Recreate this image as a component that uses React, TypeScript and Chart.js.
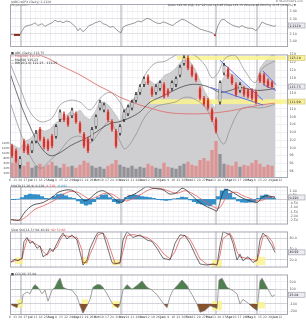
import React, { useEffect, useRef } from "react";
import { Chart, registerables } from "chart.js";

Chart.register(...registerables);

const FONT = "DejaVu Sans";
const X_MAX = 278;
const WEEK = 5.1;

// ---------- axis labels ----------
const WEEK_LABELS = ["6","13","20","27","Jul","11","18","25","Aug","8","15","22","29","Sep","12","19","26","Oct","10","17","24","31","Nov","14","21","28","Dec","12","19","26","Jan","9","16","23","30","Feb","13","20","27","Mar","13","20","27","Apr","10","17","24","May","8","15","22","29","Jun","12"];
const MONTHS = ["Jul","Aug","Sep","Oct","Nov","Dec","Jan","Feb","Mar","Apr","May","Jun"];
const MARKER_T = [11, 111, 206, 247];

const RS_TICKS = [2.0, 2.1, 2.2, 2.3, 2.4];
const PRICE_TICKS = [94,96,98,100,102,104,106,108,110,112,114,116,118,120,122,124];
const VOL_TICKS = [20,40,60,80,100,120,140];
const MACD_TICKS = [1,0.5,0,-0.5,-1,-1.5,-2,-2.5];
const STO_TICKS = [20,50,80];
const CCI_TICKS = [-200,-100,0,100,200];

// ---------- relative strength panel ----------
const RS_T = [0,5,10,12,15,18,22,25,28,32,35,38,42,45,48,50,53,56,60,63,66,68,70,73,76,79,82,85,88,90,93,96,100,103,106,109,111,113,116,119,122,125,128,131,134,137,140,143,146,150,153,156,160,163,166,169,172,175,178,181,184,187,190,193,196,199,202,205,208,211,214,217,220,223,226,229,232,235,238,241,244,246,249,252,255,258,261,264,266];
const RS_V = [2.092,2.086,2.086,2.14,2.2,2.212,2.224,2.248,2.212,2.236,2.2,2.224,2.248,2.284,2.26,2.272,2.248,2.272,2.26,2.224,2.188,2.14,2.176,2.128,2.164,2.212,2.224,2.248,2.26,2.272,2.236,2.224,2.188,2.2,2.164,2.128,2.116,2.188,2.212,2.224,2.236,2.248,2.272,2.26,2.284,2.308,2.296,2.272,2.248,2.236,2.26,2.248,2.224,2.212,2.248,2.272,2.296,2.284,2.26,2.236,2.212,2.188,2.164,2.152,2.14,2.128,2.116,2.08,2.212,2.284,2.296,2.26,2.236,2.212,2.2,2.188,2.212,2.188,2.176,2.176,2.164,2.14,2.188,2.26,2.236,2.224,2.212,2.2,2.212];
const RS_MARK_T = [4, 10];
const RS_MARK_V = [2.086, 2.086];
const RS_DOT_T = [205];
const RS_DOT_V = [2.08];

// ---------- price panel ----------
const CANDLE_T = [2,6,10,14,18,22,26,30,34,38,42,46,50,54,58,62,66,70,74,78,82,86,90,94,98,102,106,110,114,118,122,126,130,134,138,142,146,150,154,158,162,166,170,174,178,182,186,190,194,198,202,206,210,214,218,222,226,230,234,238,242,246,250,254,258,262];
const OPEN = [100.5,99.25,95.5,101.75,100.5,99.25,101.75,104.75,102.25,101.75,103,103,107.25,108.75,107.75,108.25,108.75,106.25,103.5,102.25,102.25,105.5,110.25,109.75,109.25,106.75,104.25,103.75,107.25,108.75,110.25,112.25,114.25,116.25,118.25,115.25,114.25,115.25,116.25,114.75,115.25,116.25,118.75,121.75,123,120.75,118.75,115.25,112.75,112.25,109.75,107.25,111.75,119.25,120.25,118.25,116.25,114.75,115.25,114.75,114.75,114.25,118.75,118.75,117.25,116.75];
const CLOSE = [98,96.75,97.25,99.25,98.75,101.25,103.75,102.25,100.25,99.75,100.5,105.5,109.25,107.25,106,109.75,106.75,104.25,100.5,99.25,104.75,108,111.75,111,107.25,104.75,100.5,105.5,109.25,110.5,111.75,113.75,115.75,117.75,116.75,113.75,115.75,116.75,113.25,113.75,116.75,117.75,120.75,123.25,120.5,118.75,117.5,112.75,111.25,110.25,107.25,104.25,116.75,121.25,118.25,116.75,113.75,116.25,113.75,113.25,112.75,111.75,117.25,116.75,116,115.75];
const HIGH = [101,99.75,97.75,102.25,101,101.75,104.5,105.25,102.75,102.25,103.5,106,109.75,109.25,108.25,110.25,109.25,106.75,104,102.75,105.25,108.5,112.25,111.5,109.75,107.25,104.75,106,109.75,111,112.25,114.25,116.25,118.25,118.75,115.75,116.25,117.25,116.75,115.25,117.25,118.25,121.25,123.75,123.75,121.25,119.25,115.75,113.25,112.75,110.25,107.75,117.25,121.75,120.75,118.75,116.75,116.75,115.75,115.25,115.25,114.75,119.25,119.25,117.75,117.25];
const LOW = [97.5,96.25,94.75,98.75,98.25,98.75,101.25,101.75,99.75,99.25,100,102.5,106.75,106.75,105.5,107.75,106.25,103.75,100,98.75,101.75,105,109.75,109.25,106.75,104.25,100,103.25,106.75,108.25,109.75,111.75,113.75,115.75,116.25,113.25,113.75,114.75,112.75,113.25,114.75,115.75,118.25,121.25,120,118.25,117,112.25,110.75,109.75,106.75,103.75,111.25,118.75,117.75,116.25,113.25,114.25,113.25,112.75,112.25,111.25,116.75,116.25,115.5,115.25];
const VOLUME = [60,72,56,48,64,40,48,56,44,52,64,48,40,56,44,48,40,52,68,60,48,40,44,36,48,56,72,52,44,40,48,36,44,40,56,48,40,36,60,44,40,36,48,56,64,52,48,72,80,68,112,148,96,56,52,48,64,44,52,48,60,72,56,44,52,48];

const AREA_T = [0,5,10,15,20,25,30,35,40,45,50,55,60,65,70,75,80,85,90,95,100,105,110,115,120,125,130,135,140,145,150,155,160,165,170,175,180,185,190,195,200,205,210,215,220,225,230,235,240,245,250,255,260,265];
const AREA_V = [101,100.5,99.75,101.75,102.25,103.75,104.75,104.25,104.75,106.25,107.25,108,109.25,108.75,109.75,108,107.25,109.25,111.75,111.75,110.5,108.75,106.75,109.75,111.75,113,114.25,116.75,117.25,116.25,117.25,118.75,119.25,120.25,121.75,123.5,122.25,120.25,117.25,114.25,112.25,110,116.25,118.75,119.25,118.5,117.25,116,114.75,114.25,120.5,122.25,123.5,124.25];

const BB_UP_T = [0,10,20,30,40,45,50,60,70,80,90,100,110,115,125,135,145,155,165,175,185,195,202,208,215,225,235,245,252,260,265];
const BB_UP = [121.75,115.5,109.25,106.75,107.25,108.75,111,112.25,111.75,109.75,112.75,114.25,111.75,109.75,112.75,118.75,121.75,122.25,123.75,124.75,123.75,121.25,118,119.25,123,123.75,119.75,116.75,120.25,121.75,122.25];
const BB_LO_T = [0,10,20,30,40,50,60,70,80,90,100,110,115,125,135,145,155,165,175,185,195,202,208,214,220,230,240,250,260,265];
const BB_LO = [111.75,104.25,98,94.75,96.75,99.25,102.25,103,101.25,104.25,106.75,101.75,99.75,103,108,110.5,111.25,111.75,113,112.5,110.5,107.25,103,101,104.75,109.75,110.5,110.25,110.75,111.25];
const MA50_T = [0,10,20,30,40,50,60,70,80,90,100,110,120,130,140,150,160,170,180,190,200,210,220,230,240,250,265];
const MA50_V = [119.25,111.75,105.5,100.5,98,98.75,100.5,101.75,103,104.75,106.25,106.75,107.75,109.25,111.75,113,114.25,115.5,116.25,116.25,115.5,114.25,114.75,115.5,115,114.75,115.25];
const MA200_T = [20,27,40,50,60,70,80,90,100,110,120,130,140,150,160,175,190,205,220,235,250,265];
const MA200_V = [126,124.25,122.75,121.25,120,118.75,117.25,115.75,114.5,113,112,111,110.25,109.5,109,108.75,108.75,109,109.5,110.25,111,111.5];

const TREND_T = [[210,253],[201,253],[253,266],[253,266]];
const TREND_V = [[122.5,112.25],[115.5,111],[119.75,116.25],[116.25,114.75]];
const ZONE_T = [[167,276],[140,287]];
const ZONE_V = [[122.6,123.6],[111.25,112.5]];

// ---------- MACD ----------
const MACD_T = [0,8,10,15,23,33,43,48,57,63,70,75,80,87,93,100,107,112,117,123,130,137,143,153,160,167,172,177,183,190,197,203,207,212,215,220,227,233,240,247,253,258,265];
const MACD_V = [-2.4,-2.5,-2.4,-1.5,-0.7,-0.4,0.3,0.8,1.1,1.0,0.3,-0.2,0.1,0.8,1.0,0.5,-0.2,-0.4,0.3,0.5,1.0,1.5,1.3,1.1,0.6,0.8,1.3,1.0,0.3,-0.4,-0.9,-1.2,-1.4,0.5,1.1,1.0,0.5,0.1,-0.2,-0.4,0.3,0.4,0.2];
const SIGNAL_T = [0,10,17,25,35,45,52,60,68,75,80,87,95,102,110,117,123,130,137,145,153,160,167,175,182,190,197,205,210,215,220,227,233,240,247,253,258,265];
const SIGNAL_V = [-2.4,-2.5,-2.0,-1.2,-0.7,-0.1,0.5,0.9,0.8,0.3,0.0,0.3,0.7,0.6,0.0,-0.2,0.1,0.5,1.0,1.3,1.2,0.9,0.7,1.0,0.7,0.1,-0.4,-1.0,-1.0,0.0,0.7,0.8,0.4,0.1,-0.2,-0.1,0.2,0.3];
const HIST_T = [0,4,8,12,16,20,24,28,32,36,40,44,48,52,56,60,64,68,72,76,80,84,88,92,96,100,104,108,112,116,120,124,128,132,136,140,144,148,152,156,160,164,168,172,176,180,184,188,192,196,200,204,208,212,216,220,224,228,232,236,240,244,248,252,256,260,264];
const HIST_V = [-0.05,-0.05,0,0.2,0.45,0.6,0.55,0.5,0.3,0.1,0.05,0.3,0.55,0.6,0.4,0.2,0.1,-0.2,-0.5,-0.7,-0.6,-0.3,0.2,0.45,0.5,0.2,-0.3,-0.5,-0.3,0.2,0.4,0.5,0.45,0.3,0.25,0.2,0.1,-0.05,-0.1,-0.15,-0.1,0.05,0.1,0.25,0.2,-0.1,-0.3,-0.5,-0.6,-0.7,-0.8,-0.6,0.3,1.0,1.2,0.7,0.2,-0.2,-0.35,-0.4,-0.35,-0.3,0.1,0.4,0.5,0.3,0.1];

// ---------- stochastic ----------
const STO_T = [0,5,8,12,14,17,20,23,27,30,33,37,40,43,47,50,53,57,62,67,72,73,77,80,85,88,93,97,102,105,110,113,117,123,130,137,142,147,153,160,165,170,175,180,185,190,197,203,207,210,213,220,223,227,230,233,238,243,247,250,253,257,262,265];
const STO_K = [13,22,18,25,71,82,66,71,52,59,29,36,52,43,66,82,94,78,89,75,20,6,20,52,82,96,94,59,13,9,13,75,98,82,89,75,71,52,25,20,66,89,87,66,36,9,6,9,6,59,98,89,66,20,36,18,29,13,20,75,94,82,59,41];
const STO_D = [13,18,20,22,48,76,74,68,62,56,44,33,44,48,55,74,88,86,84,82,48,13,13,36,67,89,95,77,36,11,11,44,87,90,86,82,73,62,39,23,43,78,88,77,51,23,8,8,8,33,79,94,78,43,28,27,24,21,17,48,85,88,71,50];
const STO_ZONE_T = [[5,13],[72,78],[102,110],[202,212],[245,255]];
const STO_ZONE_V = [[8.5,27],[8.5,27],[6,20],[-0.7,20],[6,29]];

// ---------- CCI ----------
const CCI_T = [0,3,7,8,12,13,17,20,23,25,28,32,35,38,42,45,48,50,53,57,62,67,70,73,77,80,83,87,90,93,97,102,105,108,110,113,117,122,127,132,137,142,147,153,157,160,163,168,172,177,182,187,190,195,200,205,207,209,212,217,222,227,230,233,238,243,247,250,252,257,262,265];
const CCI_V = [-100,-125,-150,-100,-88,25,62,38,125,162,125,38,88,-62,88,125,212,250,125,100,88,0,-125,-225,-125,-38,125,162,162,125,38,-88,-125,-150,-100,88,162,100,150,212,125,88,25,-88,-150,0,88,162,225,150,25,-100,-212,-188,-125,-150,-162,225,250,125,88,38,-100,-38,-88,-150,-188,212,250,125,0,25];
const CCI_ZONE_T = [[7,13],[72,78],[102,110],[202,212],[245,255]];
const CCI_ZONE_V = [[-150,-37],[-125,-37],[-150,-62],[-187,-62],[-162,-75]];

// ---------- helpers ----------
const pts = (ts: number[], vs: number[]) => ts.map((t, i) => ({ x: t, y: vs[i] }));
const zones = (ts: number[][], vs: number[][]) => ts.map((t, i) => ({ x0: t[0], x1: t[1], y0: vs[i][0], y1: vs[i][1] }));

function line(ts: number[], vs: number[], color: string, width: number, order: number, extra: any = {}) {
  return { type: "line", data: pts(ts, vs), borderColor: color, borderWidth: width, pointRadius: 0, fill: false, tension: 0, order, ...extra };
}

function xScale(labels: boolean) {
  return {
    type: "linear", min: 0, max: X_MAX, offset: false,
    afterBuildTicks: (s: any) => { s.ticks = WEEK_LABELS.map((_, i) => ({ value: i * WEEK })); },
    afterFit: (s: any) => { s.height = labels ? 5 : 0; },
    ticks: {
      display: labels, autoSkip: false, maxRotation: 0, minRotation: 0, padding: 0.5, color: "#555",
      font: (c: any) => ({ family: FONT, size: 3, weight: MONTHS.includes(WEEK_LABELS[c.index]) ? "bold" : "normal" }),
      callback: (_v: any, i: number) => WEEK_LABELS[i] ?? "",
    },
    grid: { drawTicks: false, offset: false, lineWidth: 0.5, color: (c: any) => (MONTHS.includes(WEEK_LABELS[c.index]) ? "#d9d9e2" : "#ededf3") },
    border: { display: false },
  };
}

function yScale(o: { min: number; max: number; ticks: number[]; fmt: (v: number) => string; grid?: (v: number) => string }) {
  return {
    position: "right", min: o.min, max: o.max,
    afterBuildTicks: (s: any) => { s.ticks = o.ticks.map((v) => ({ value: v })); },
    afterFit: (s: any) => { s.width = 18; },
    ticks: { autoSkip: false, padding: 1.5, color: "#555", font: { family: FONT, size: 3.3 }, callback: (v: any) => o.fmt(Number(v)) },
    grid: { drawTicks: false, lineWidth: 0.5, color: (c: any) => (o.grid ? o.grid(c.tick?.value) : "#e2e2ea") },
    border: { display: false },
  };
}

function drawZones(chart: any, o: any) {
  const { ctx } = chart;
  const xs = chart.scales.x;
  const ys = chart.scales[o.yId || "y"];
  ctx.save();
  ctx.fillStyle = "rgba(250,244,140,0.85)";
  o.zones.forEach((b: any) => {
    const x0 = xs.getPixelForValue(b.x0), x1 = xs.getPixelForValue(b.x1);
    const y0 = ys.getPixelForValue(b.y1), y1 = ys.getPixelForValue(b.y0);
    ctx.fillRect(x0, y0, x1 - x0, y1 - y0);
  });
  ctx.restore();
}

function overlay(o: any) {
  return {
    id: "overlay",
    beforeDatasetsDraw(chart: any) {
      const { ctx, chartArea: a } = chart;
      const xs = chart.scales.x;
      ctx.save();
      ctx.strokeStyle = "#a4a4ac";
      ctx.lineWidth = 0.9;
      MARKER_T.forEach((t) => {
        const px = xs.getPixelForValue(t);
        ctx.beginPath(); ctx.moveTo(px, a.top); ctx.lineTo(px, a.bottom); ctx.stroke();
      });
      ctx.restore();
      if (o.zones && o.zoneAfter === undefined) drawZones(chart, o);
    },
    afterDatasetDraw(chart: any, args: any) {
      if (o.zones && o.zoneAfter === args.index) drawZones(chart, o);
    },
    afterDraw(chart: any) {
      const { ctx, chartArea: a } = chart;
      ctx.save();
      ctx.strokeStyle = "#a8a8b2";
      ctx.lineWidth = 1;
      ctx.strokeRect(a.left + 0.5, a.top + 0.5, a.width - 1, a.height - 1);
      const ys = chart.scales[o.yId || "y"];
      (o.boxes || []).forEach((b: any) => {
        const py = ys.getPixelForValue(b.value);
        ctx.fillStyle = b.fill;
        ctx.fillRect(a.right + 0.5, py - 2.5, 16.5, 5);
        ctx.strokeStyle = b.stroke;
        ctx.lineWidth = 0.6;
        ctx.strokeRect(a.right + 0.5, py - 2.5, 16.5, 5);
        ctx.fillStyle = "#222";
        ctx.font = `3.2px ${FONT}`;
        ctx.textAlign = "left";
        ctx.textBaseline = "middle";
        ctx.fillText(b.label, a.right + 1.5, py + 0.2);
      });
      let cx = 0;
      (o.texts || []).forEach((t: any) => {
        ctx.font = `${t.bold ? "bold " : ""}${t.size || 3.2}px ${FONT}`;
        ctx.fillStyle = t.color || "#444";
        ctx.textAlign = t.align || "left";
        ctx.textBaseline = "top";
        const x = t.x === undefined ? cx + 1 : t.x;
        ctx.fillText(t.text, x, t.y);
        cx = x + ctx.measureText(t.text).width;
      });
      ctx.restore();
    },
  };
}

const base = (padding: any) => ({
  responsive: false, animation: false, events: [],
  layout: { padding },
  plugins: { legend: { display: false }, tooltip: { enabled: false } },
});

// ---------- panel builders ----------
function buildRS() {
  return {
    type: "line",
    data: {
      datasets: [
        line(RS_T, RS_V, "#707070", 0.7, 2),
        line(RS_MARK_T, RS_MARK_V, "#8c2a14", 2, 1),
        { type: "line", data: pts(RS_DOT_T, RS_DOT_V), showLine: false, pointRadius: 1, pointBackgroundColor: "#d02020", pointBorderWidth: 0, order: 0 },
      ],
    },
    options: {
      ...base({ left: 10, top: 3, right: 0, bottom: 0 }),
      scales: {
        x: xScale(false),
        y: yScale({ min: 1.924, max: 2.5, ticks: RS_TICKS, fmt: (v) => v.toFixed(2), grid: (v) => (v === 2.1 || v === 2.3 ? "#c8c8d2" : "#e2e2ea") }),
      },
    },
    plugins: [overlay({
      boxes: [{ value: 2.212, label: "2.2120", fill: "#ececf2", stroke: "#9a9aa4" }],
      texts: [
        { x: 11, y: 0.4, text: "$ABC:$SPX (Daily) 2.2120", color: "#555", size: 3.1 },
        { x: 11, y: 4.2, text: "20-Jun-2017", color: "#777", size: 2.9 },
        { x: 303, y: 0, text: "© StockCharts.com", color: "#666", size: 2.8, align: "right" },
        { x: 296, y: 3.6, text: "Open 116.50 High 117.02 Low 115.48 Close 115.75 Volume 48.2M Chg -0.72 (-0.62%) ▼", color: "#444", size: 2.9, align: "right" },
      ],
    })],
  };
}

function buildMain() {
  const down = CANDLE_T.map((_, i) => CLOSE[i] < OPEN[i]);
  const wickColors = down.map((d) => (d ? "#e0302a" : "#1e1e1e"));
  const bodyFill = down.map((d) => (d ? "#e0302a" : "rgba(255,255,255,0.9)"));
  const bodyBorder = down.map((d) => (d ? "#e0302a" : "#1e1e1e"));
  const volColors = down.map((d) => (d ? "rgba(226,128,128,0.75)" : "rgba(120,120,126,0.7)"));
  const trend = TREND_T.map((ts, i) => line(ts, TREND_V[i], "#5a6fe6", 1, 4));
  return {
    type: "bar",
    data: {
      datasets: [
        { type: "line", data: pts(AREA_T, AREA_V), fill: "start", backgroundColor: "#cfcfd2", borderColor: "#b4b4b8", borderWidth: 0.6, pointRadius: 0, tension: 0, order: 10, yAxisID: "y" },
        { type: "bar", data: pts(CANDLE_T, VOLUME), backgroundColor: volColors, barThickness: 2.6, grouped: false, yAxisID: "vol", order: 9 },
        line(BB_UP_T, BB_UP, "#8c8c8c", 0.7, 6, { tension: 0.35 }),
        line(BB_LO_T, BB_LO, "#8c8c8c", 0.7, 6, { tension: 0.35 }),
        line(MA50_T, MA50_V, "#3a3a3a", 0.7, 5, { tension: 0.35 }),
        line(MA200_T, MA200_V, "#e07272", 0.9, 5, { tension: 0.35 }),
        ...trend,
        { type: "bar", data: CANDLE_T.map((t, i) => ({ x: t, y: [LOW[i], HIGH[i]] })), backgroundColor: wickColors, barThickness: 0.7, grouped: false, order: 2 },
        { type: "bar", data: CANDLE_T.map((t, i) => ({ x: t, y: [OPEN[i], CLOSE[i]] })), backgroundColor: bodyFill, borderColor: bodyBorder, borderWidth: 0.6, borderSkipped: false, barThickness: 2.2, grouped: false, order: 1 },
      ],
    },
    options: {
      ...base({ left: 0, top: 0, right: 0, bottom: 0 }),
      scales: {
        x: xScale(true),
        y: yScale({ min: 92.25, max: 124, ticks: PRICE_TICKS, fmt: (v) => v.toFixed(0) }),
        vol: {
          position: "left", min: 0, max: 500,
          afterBuildTicks: (s: any) => { s.ticks = VOL_TICKS.map((v) => ({ value: v })); },
          afterFit: (s: any) => { s.width = 10; },
          ticks: { autoSkip: false, padding: 0.5, color: "#555", font: { family: FONT, size: 2.8 }, callback: (v: any) => `${v}M` },
          grid: { display: false, drawTicks: false },
          border: { display: false },
        },
      },
    },
    plugins: [overlay({
      zones: zones(ZONE_T, ZONE_V), zoneAfter: 0,
      boxes: [
        { value: 123.1, label: "123.10", fill: "#f8f09a", stroke: "#c8c070" },
        { value: 115.75, label: "115.75", fill: "#ececf2", stroke: "#9a9aa4" },
        { value: 111.9, label: "111.90", fill: "#f8f09a", stroke: "#c8c070" },
      ],
      texts: [
        { x: 11, y: 0.8, text: "■ ABC (Daily) 115.75", color: "#444", size: 3.1 },
        { x: 11, y: 4.0, text: "— MA(200) 111.52", color: "#d85050", size: 3.1 },
        { x: 11, y: 7.2, text: "— MA(50) 115.23", color: "#222", size: 3.1 },
        { x: 11, y: 10.4, text: "— BB(20,2.0) 122.25 - 111.25", color: "#222", size: 3.1 },
      ],
    })],
  };
}

function buildMACD() {
  return {
    type: "bar",
    data: {
      datasets: [
        { type: "bar", data: pts(HIST_T, HIST_V), backgroundColor: "#3390c9", barThickness: 3.6, grouped: false, order: 5 },
        line(SIGNAL_T, SIGNAL_V, "#e06060", 0.8, 2, { tension: 0.3 }),
        line(MACD_T, MACD_V, "#333333", 0.8, 1, { tension: 0.3 }),
      ],
    },
    options: {
      ...base({ left: 10, top: 0, right: 0, bottom: 0 }),
      scales: {
        x: xScale(false),
        y: yScale({ min: -3, max: 1.5, ticks: MACD_TICKS, fmt: (v) => v.toFixed(2), grid: (v) => (v === 0 ? "#9a9aa4" : "#e2e2ea") }),
      },
    },
    plugins: [overlay({
      boxes: [{ value: 0.2, label: "0.226", fill: "#ececf2", stroke: "#9a9aa4" }],
      texts: [
        { x: 11, y: 1.2, text: "MACD(12,26,9) 0.226,", color: "#444", size: 3.1 },
        { text: "0.318,", color: "#d85050", size: 3.1, y: 1.2 },
        { text: "-0.092", color: "#3390c9", size: 3.1, y: 1.2 },
      ],
    })],
  };
}

function buildSto() {
  return {
    type: "line",
    data: {
      datasets: [
        line(STO_T, STO_D, "#e06060", 0.8, 2),
        line(STO_T, STO_K, "#333333", 0.7, 1),
      ],
    },
    options: {
      ...base({ left: 10, top: 0, right: 0, bottom: 0 }),
      scales: {
        x: xScale(false),
        y: yScale({ min: -0.7, max: 98.5, ticks: STO_TICKS, fmt: (v) => v.toFixed(1), grid: (v) => (v === 50 ? "#b8b8c2" : "#a8a8b2") }),
      },
    },
    plugins: [overlay({
      zones: zones(STO_ZONE_T, STO_ZONE_V),
      boxes: [{ value: 41, label: "40.92", fill: "#ececf2", stroke: "#9a9aa4" }],
      texts: [
        { x: 11, y: 1.0, text: "Slow Sto(14,3) %K 40.92", color: "#444", size: 3.1 },
        { text: "%D 52.60", color: "#d85050", size: 3.1, y: 1.0 },
      ],
    })],
  };
}

function buildCCI() {
  return {
    type: "line",
    data: {
      datasets: [
        { type: "line", data: pts(CCI_T, CCI_V), borderWidth: 0, pointRadius: 0, tension: 0, order: 5, fill: { target: { value: 100 }, above: "#4f7f4f", below: "rgba(0,0,0,0)" } },
        { type: "line", data: pts(CCI_T, CCI_V), borderWidth: 0, pointRadius: 0, tension: 0, order: 4, fill: { target: { value: -100 }, above: "rgba(0,0,0,0)", below: "#86522e" } },
        line(CCI_T, CCI_V, "#7a7a7a", 0.7, 1),
      ],
    },
    options: {
      ...base({ left: 10, top: 0, right: 0, bottom: 0 }),
      scales: {
        x: xScale(true),
        y: yScale({ min: -250, max: 300, ticks: CCI_TICKS, fmt: (v) => v.toFixed(0), grid: (v) => (v === 100 || v === -100 ? "#a8a8b2" : v === 0 ? "#c6c6d0" : "#e2e2ea") }),
      },
    },
    plugins: [overlay({
      zones: zones(CCI_ZONE_T, CCI_ZONE_V),
      boxes: [{ value: 25, label: "25.04", fill: "#ececf2", stroke: "#9a9aa4" }],
      texts: [{ x: 11, y: 1.2, text: "■ CCI(20) 25.04", color: "#444", size: 3.1 }],
    })],
  };
}

function Panel({ top, height, build }: { top: number; height: number; build: () => any }) {
  const ref = useRef<HTMLCanvasElement>(null);
  useEffect(() => {
    const chart = new Chart(ref.current as HTMLCanvasElement, build());
    return () => chart.destroy();
  }, []);
  return <canvas ref={ref} width={306} height={height} style={{ position: "absolute", left: 0, top, width: 306, height }} />;
}

export default function App() {
  return (
    <div style={{ position: "fixed", left: 0, top: 0, width: 306, height: 320, background: "#ffffff", overflow: "hidden" }}>
      <Panel top={0} height={51} build={buildRS} />
      <Panel top={51} height={132} build={buildMain} />
      <Panel top={183} height={45} build={buildMACD} />
      <Panel top={228} height={43} build={buildSto} />
      <Panel top={271} height={49} build={buildCCI} />
    </div>
  );
}
